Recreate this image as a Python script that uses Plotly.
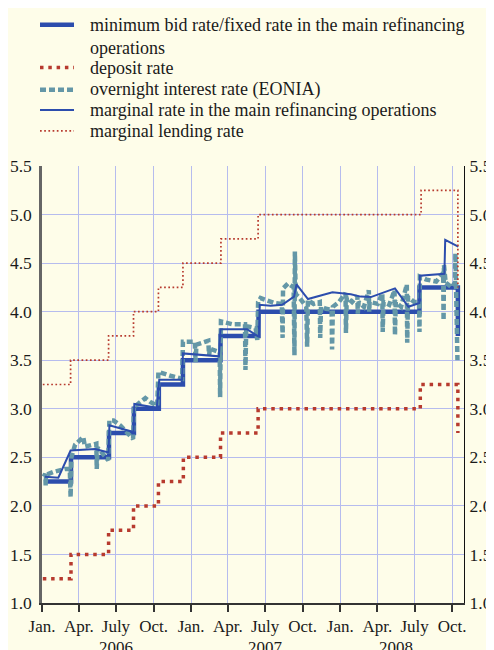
import plotly.graph_objects as go

# ---------------- data ----------------
mro_dates = ["2006-01-11", "2006-03-13", "2006-06-14", "2006-08-14", "2006-10-14",
             "2006-12-12", "2007-03-14", "2007-06-15", "2008-07-13", "2008-10-15"]
mro_vals = [2.25, 2.50, 2.75, 3.00, 3.25, 3.50, 3.75, 4.00, 4.25, 3.75]

dep_dates = ["2006-01-03", "2006-03-13", "2006-06-13", "2006-08-13", "2006-10-13",
             "2006-12-13", "2007-03-14", "2007-06-14", "2008-07-15", "2008-10-15"]
dep_vals = [1.25, 1.50, 1.75, 2.00, 2.25, 2.50, 2.75, 3.00, 3.25, 2.75]

mlf_dates = ["2006-01-03", "2006-03-12", "2006-06-13", "2006-08-13", "2006-10-13",
             "2006-12-12", "2007-03-15", "2007-06-14", "2008-07-17", "2008-10-15"]
mlf_vals = [3.25, 3.50, 3.75, 4.00, 4.25, 4.50, 4.75, 5.00, 5.25, 4.25]

marg_dates = ["2006-01-08", "2006-02-10", "2006-03-12", "2006-05-11", "2006-06-13",
              "2006-06-15", "2006-08-13", "2006-08-15", "2006-10-09", "2006-10-15",
              "2006-12-10", "2006-12-12", "2007-03-10", "2007-03-14", "2007-05-18",
              "2007-06-16", "2007-06-18", "2007-07-15", "2007-08-12", "2007-09-10",
              "2007-09-16", "2007-10-14", "2007-12-13", "2008-01-27", "2008-02-20",
              "2008-03-16", "2008-05-14", "2008-06-16", "2008-07-13", "2008-07-14",
              "2008-09-12", "2008-09-14", "2008-10-16"]
marg_vals = [2.30, 2.29, 2.57, 2.585, 2.55, 2.83, 2.76, 3.05, 3.01, 3.30,
             3.30, 3.57, 3.54, 3.82, 3.82, 3.74, 4.07, 4.06, 4.07, 4.155,
             4.28, 4.13, 4.20, 4.18, 4.155, 4.15, 4.24, 4.05, 4.09, 4.37,
             4.39, 4.74, 4.67]

eonia_dates = ["2006-01-05", "2006-01-09", "2006-01-10", "2006-01-11", "2006-01-29",
               "2006-02-26", "2006-03-10", "2006-03-12", "2006-03-14", "2006-03-23",
               "2006-04-12", "2006-04-16", "2006-05-14", "2006-05-15", "2006-05-17",
               "2006-06-12", "2006-06-15", "2006-06-25", "2006-07-11", "2006-08-12",
               "2006-08-14", "2006-08-21", "2006-09-11", "2006-09-23", "2006-10-10",
               "2006-10-13", "2006-11-11", "2006-12-10", "2006-12-12", "2006-12-30",
               "2007-01-10", "2007-01-12", "2007-01-14", "2007-02-12", "2007-02-14",
               "2007-02-16", "2007-03-06", "2007-03-12", "2007-03-13", "2007-03-15",
               "2007-04-12", "2007-05-10", "2007-05-13", "2007-05-14", "2007-05-16",
               "2007-06-08", "2007-06-12", "2007-06-14", "2007-06-20", "2007-07-23",
               "2007-08-11", "2007-08-13", "2007-08-14", "2007-08-26", "2007-09-09",
               "2007-09-11", "2007-09-12", "2007-09-14", "2007-09-22", "2007-10-10",
               "2007-10-12", "2007-10-14", "2007-10-28", "2007-11-12", "2007-11-13",
               "2007-11-15", "2007-11-27", "2007-12-11", "2007-12-12", "2007-12-14",
               "2007-12-29", "2008-01-14", "2008-01-15", "2008-01-17", "2008-01-30",
               "2008-02-12", "2008-02-13", "2008-02-15", "2008-02-28", "2008-03-11",
               "2008-03-12", "2008-03-13", "2008-04-02", "2008-04-13", "2008-04-14",
               "2008-04-16", "2008-04-30", "2008-05-13", "2008-05-14", "2008-05-16",
               "2008-05-29", "2008-06-12", "2008-06-13", "2008-06-15", "2008-06-30",
               "2008-07-12", "2008-07-13", "2008-07-14", "2008-07-30", "2008-08-23",
               "2008-09-09", "2008-09-10", "2008-09-11", "2008-09-15", "2008-09-30",
               "2008-10-08", "2008-10-09", "2008-10-14"]
eonia_vals = [2.30, 2.33, 2.21, 2.32, 2.35,
              2.38, 2.38, 2.09, 2.50, 2.63,
              2.71, 2.61, 2.64, 2.38, 2.60,
              2.47, 2.88, 2.88, 2.83, 2.69,
              3.03, 3.04, 3.11, 3.07, 3.03,
              3.38, 3.34, 3.31, 3.69, 3.69,
              3.69, 3.48, 3.66, 3.70, 3.55,
              3.62, 3.59, 3.58, 3.12, 3.90,
              3.87, 3.88, 3.87, 3.40, 3.85,
              3.83, 3.71, 4.10, 4.14, 4.09,
              4.08, 3.73, 4.24, 4.29, 4.25,
              3.55, 4.62, 4.18, 4.15, 4.05,
              3.64, 4.12, 4.08, 4.10, 3.73,
              4.05, 4.03, 4.02, 3.61, 4.05,
              4.10, 4.19, 3.78, 4.15, 4.10,
              4.16, 3.98, 4.10, 4.05, 4.22,
              4.00, 4.10, 4.08, 4.19, 3.79,
              4.10, 4.07, 4.22, 3.76, 4.10,
              4.05, 4.28, 3.68, 4.15, 4.10,
              4.10, 3.79, 4.36, 4.33, 4.31,
              4.40, 3.91, 4.48, 4.30, 4.25,
              4.30, 4.60, 3.50]

tick_dates = ["2006-01-01", "2006-04-01", "2006-07-01", "2006-10-01",
              "2007-01-01", "2007-04-01", "2007-07-01", "2007-10-01",
              "2008-01-01", "2008-04-01", "2008-07-01", "2008-10-01"]
tick_text = ["Jan.", "Apr.", "July", "Oct."] * 3
year_labels = ["2006", "2007", "2008"]
year_pos = ["2006-07-02", "2007-07-02", "2008-05-16"]

series_names = ["minimum bid rate/fixed rate in the main refinancing<br>operations",
                "deposit rate",
                "overnight interest rate (EONIA)",
                "marginal rate in the main refinancing operations",
                "marginal lending rate"]

# ---------------- geometry (page has an 8px body margin) ----------------
OFF = 8
W, H = 486, 642
ML, MR, MT, MB = 34, 30, 157.6, 47.3
PW, PH = W - ML - MR, H - MT - MB

BG = "#fefde9"
GRID = "#b6bcee"
FONT = "Liberation Serif, Times New Roman, Times, serif"
TXT = "#1a1a1a"
BLUE = "#2c4dad"
TEAL = "#6497a7"
RED = "#b73a2e"

styles = [
    dict(shape="hv", color=BLUE, width=4.5),
    dict(shape="hv", color=RED, width=3.5, dash="3.5px,4.8px"),
    dict(color=TEAL, width=4.5, dash="6px,3px"),
    dict(color=BLUE, width=2),
    dict(shape="hv", color=RED, width=1.7, dash="1.7px,2.5px"),
]


def px_x(p):
    """screen pixel x -> paper coordinate"""
    return (p - OFF - ML) / PW


def px_y(p):
    """screen pixel y -> paper coordinate"""
    return (H - MB - (p - OFF)) / PH


fig = go.Figure()

fig.add_trace(go.Scatter(x=dep_dates, y=dep_vals, mode="lines", name=series_names[1],
                         line=styles[1]))
fig.add_trace(go.Scatter(x=mlf_dates, y=mlf_vals, mode="lines", name=series_names[4],
                         yaxis="y2", line=styles[4]))
fig.add_trace(go.Scatter(x=mro_dates, y=mro_vals, mode="lines", name=series_names[0],
                         line=styles[0]))
fig.add_trace(go.Scatter(x=eonia_dates, y=eonia_vals, mode="lines", name=series_names[2],
                         line=styles[2]))
fig.add_trace(go.Scatter(x=marg_dates, y=marg_vals, mode="lines", name=series_names[3],
                         line=styles[3]))

# legend (drawn manually to match the reference spacing)
leg_sym_y = [24.3, 67, 89.3, 109.5, 130.5]
leg_txt_y = [12.5, 67.5, 89, 110, 131]
for i, name in enumerate(series_names):
    st = styles[i]
    fig.add_shape(type="line", xref="paper", yref="paper",
                  x0=px_x(40), x1=px_x(74), y0=px_y(leg_sym_y[i]), y1=px_y(leg_sym_y[i]),
                  line=dict(color=st["color"], width=st["width"], dash=st.get("dash", "solid")))
    fig.add_annotation(x=px_x(88), y=px_y(leg_txt_y[i]), xref="paper", yref="paper",
                       text=name, showarrow=False, xanchor="left",
                       yanchor="top" if i == 0 else "middle", align="left",
                       font=dict(family=FONT, size=18, color=TXT))

for lbl, pos in zip(year_labels, year_pos):
    fig.add_annotation(x=pos, y=px_y(647), xref="x", yref="paper", text=lbl,
                       showarrow=False, yanchor="middle",
                       font=dict(family=FONT, size=17, color=TXT))

fig.update_layout(
    width=W, height=H,
    margin=dict(l=ML, r=MR, t=MT, b=MB, autoexpand=False),
    paper_bgcolor=BG, plot_bgcolor=BG,
    font=dict(family=FONT, size=17, color=TXT),
    showlegend=False,
    xaxis=dict(type="date", range=["2006-01-01", "2008-10-30"],
               tickmode="array", tickvals=tick_dates, ticktext=tick_text,
               showgrid=True, gridcolor=GRID, gridwidth=1,
               showline=True, linecolor="#333333", linewidth=1.5,
               ticks="outside", ticklen=7, tickwidth=1.5, tickcolor="#333333",
               zeroline=False, tickfont=dict(family=FONT, size=17, color=TXT)),
    yaxis=dict(range=[1.0, 5.5], dtick=0.5, tick0=1.0, tickformat=".1f",
               showgrid=True, gridcolor=GRID, gridwidth=1,
               showline=True, linecolor="#666666", linewidth=2.5,
               ticks="", zeroline=False, ticklabelstandoff=4,
               tickfont=dict(family=FONT, size=17.5, color=TXT)),
    yaxis2=dict(range=[1.0, 5.5], dtick=0.5, tick0=1.0, tickformat=".1f",
                overlaying="y", side="right", showgrid=False,
                showline=True, linecolor="#111111", linewidth=1.2,
                ticks="", zeroline=False, ticklabelstandoff=1,
                tickfont=dict(family=FONT, size=17.5, color=TXT)),
)

fig.write_html("out.html")
